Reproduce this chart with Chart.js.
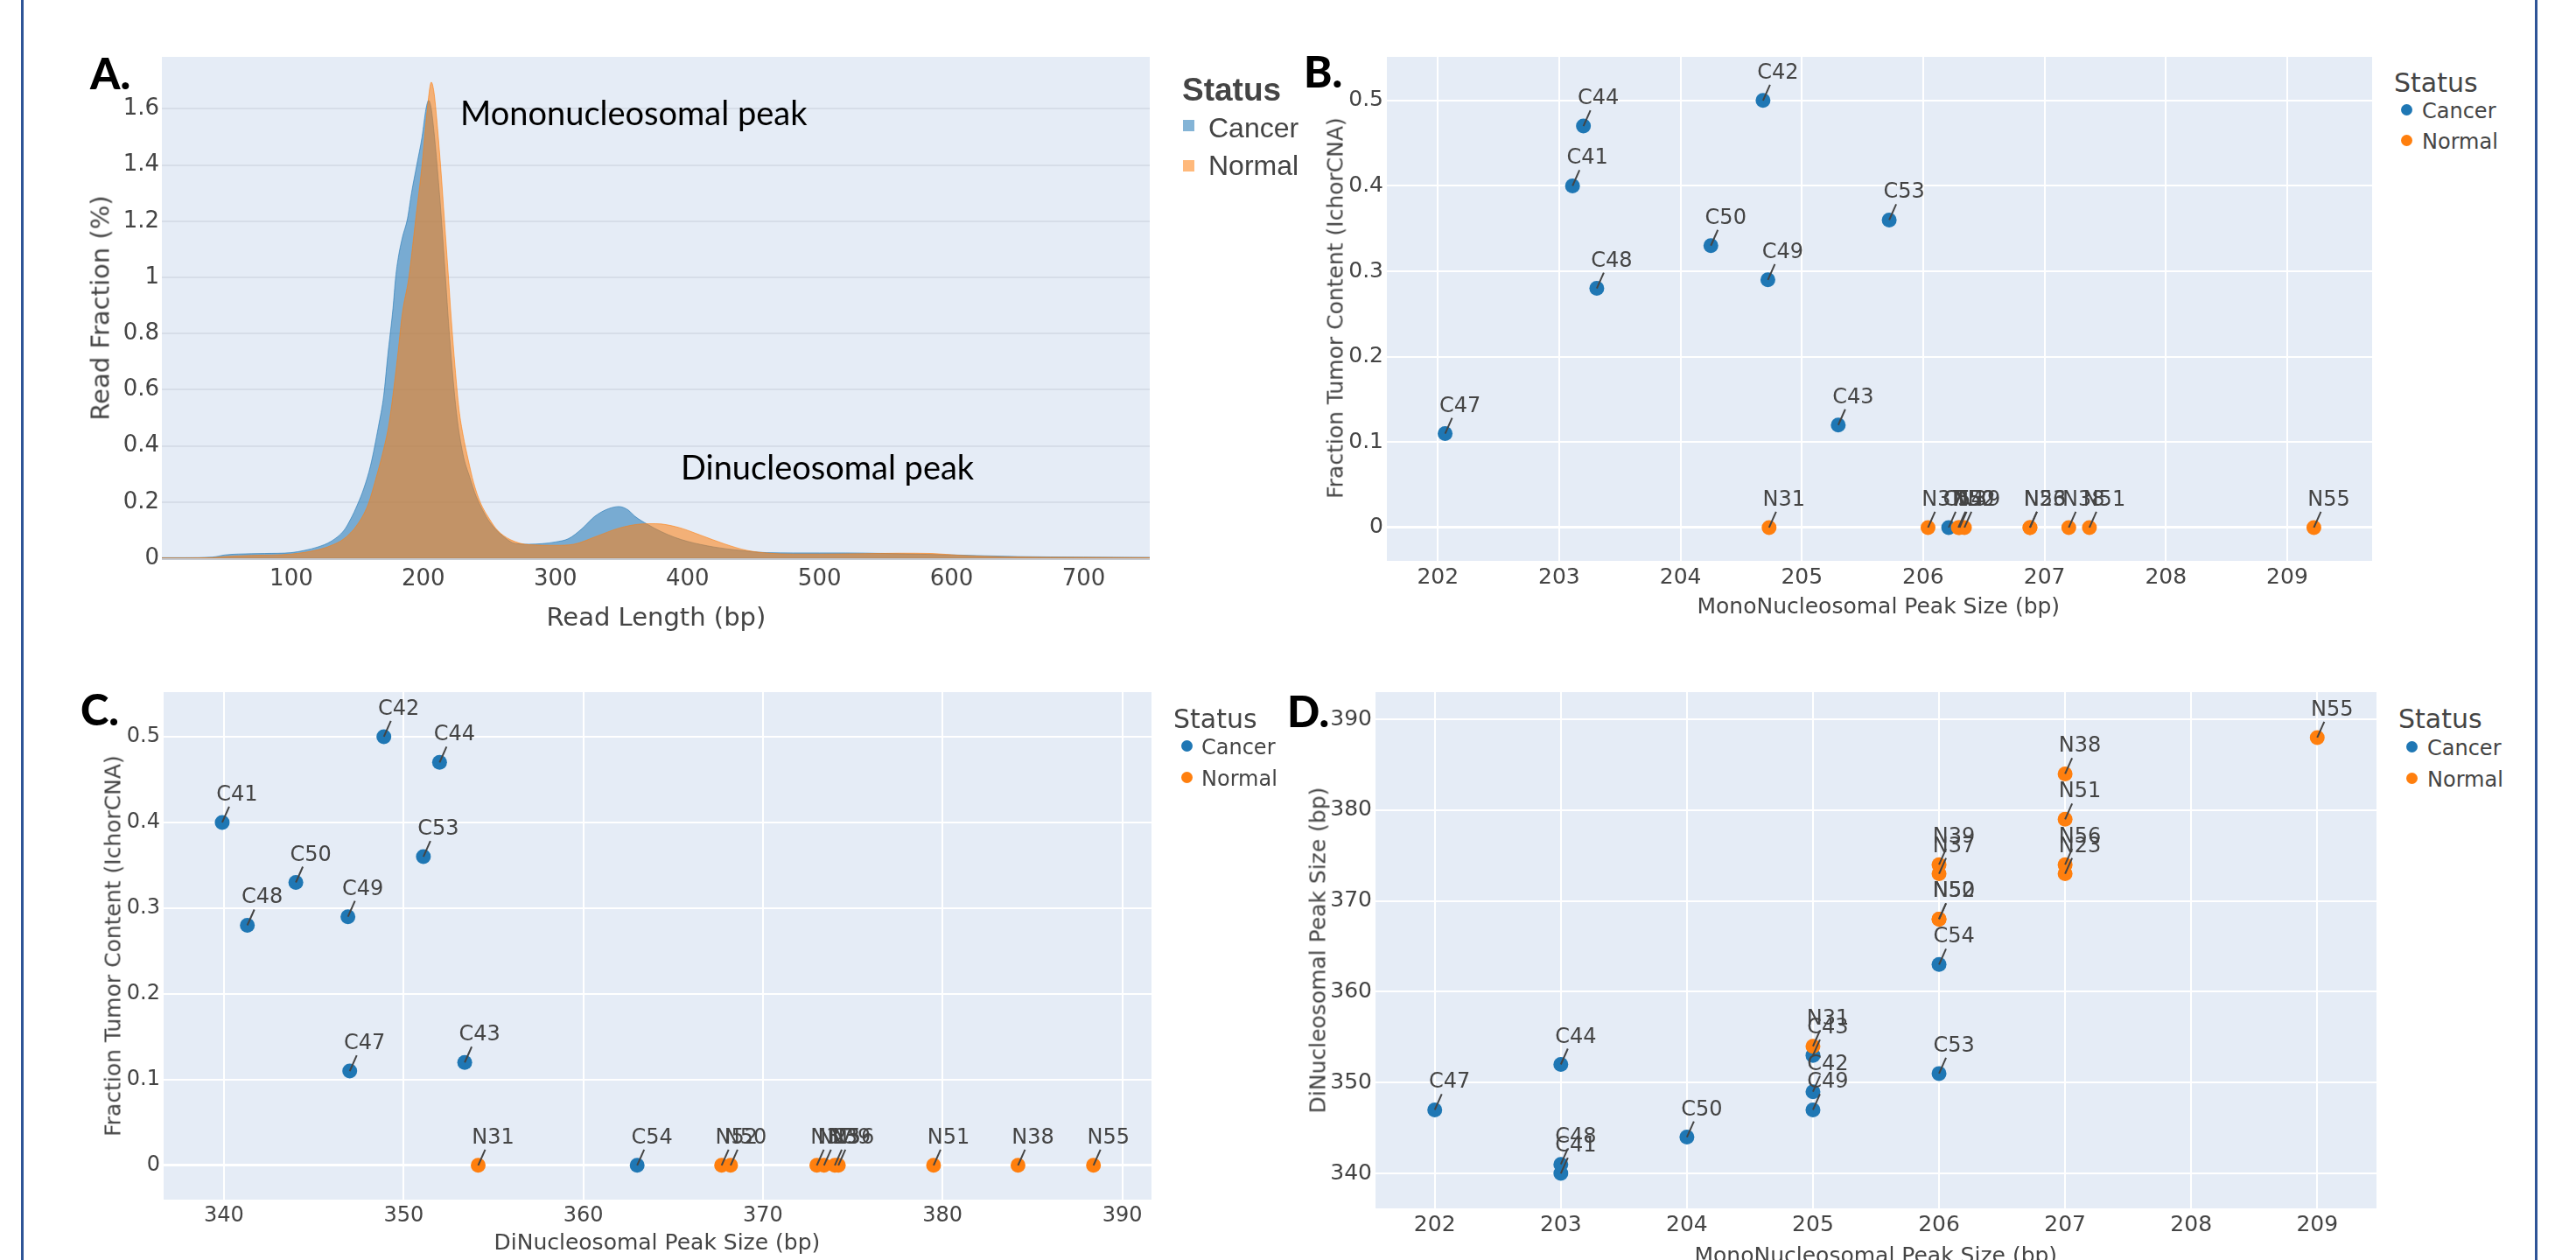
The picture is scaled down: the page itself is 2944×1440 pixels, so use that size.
<!DOCTYPE html>
<html>
<head>
<meta charset="utf-8">
<script src="https://cdn.jsdelivr.net/npm/chart.js@4.4.1/dist/chart.umd.min.js"></script>
<style>
html,body{margin:0;padding:0;background:#fff;width:2944px;height:1440px;overflow:hidden;position:relative;}
#charts canvas{position:absolute;}
.t{position:absolute;white-space:nowrap;color:#444;font-family:'DejaVu Sans',sans-serif;line-height:normal;}
#frame{position:absolute;left:24px;top:-20px;width:2876px;height:1500px;border:3px solid #2F5597;box-sizing:border-box;}
.sq{position:absolute;}
</style>
</head>
<body>
<div id="frame"></div>
<div id="charts"></div>
<script>
// ---------------- DATA ----------------
// Panel A: read length distributions
const cancerLen  = [1,20,40,50,60,80,100,110,120,130,140,145,150,155,160,166,170,173,177,179,181,184,188,191,195,199,202,204,206,208,210,213,216,220,225,230,235,240,245,250,260,270,280,290,300,310,320,330,340,348,355,360,370,380,390,400,420,440,460,480,500,520,550,600,650,700,750];
const cancerFrac = [0.002,0.002,0.004,0.012,0.015,0.017,0.02,0.028,0.04,0.06,0.10,0.14,0.19,0.25,0.33,0.47,0.58,0.72,0.89,1.00,1.07,1.14,1.21,1.30,1.40,1.50,1.60,1.63,1.60,1.52,1.42,1.25,1.05,0.78,0.52,0.37,0.29,0.22,0.17,0.13,0.08,0.052,0.05,0.052,0.058,0.07,0.105,0.15,0.176,0.184,0.172,0.15,0.12,0.095,0.075,0.06,0.04,0.028,0.02,0.019,0.019,0.019,0.017,0.012,0.006,0.004,0.003];
const normalLen  = [1,20,40,50,70,100,120,130,140,150,158,165,170,174,178,181,184,189,194,199,203,206,208,210,213,216,219,221,224,227,230,234,238,243,250,256,266,280,300,314,331,348,365,376,393,410,428,445,462,480,500,530,560,585,607,641,700,750];
const normalFrac = [0.001,0.001,0.002,0.006,0.01,0.015,0.03,0.045,0.07,0.12,0.19,0.30,0.39,0.48,0.62,0.74,0.87,1.00,1.20,1.40,1.60,1.695,1.66,1.57,1.40,1.20,1.00,0.86,0.68,0.53,0.44,0.35,0.27,0.20,0.14,0.10,0.066,0.048,0.046,0.05,0.078,0.107,0.122,0.123,0.11,0.082,0.051,0.028,0.018,0.015,0.015,0.016,0.018,0.017,0.01,0.005,0.003,0.002];
const histXTicks = [100,200,300,400,500,600,700];
const histXTickLabels = ['100','200','300','400','500','600','700'];
const histYTicks = [0,0.2,0.4,0.6,0.8,1,1.2,1.4,1.6];
const histYTickLabels = ['0','0.2','0.4','0.6','0.8','1','1.2','1.4','1.6'];

// Samples
const cancerIds   = ['C41','C42','C43','C44','C47','C48','C49','C50','C53','C54'];
const cancerMono  = [203.11,204.68,205.30,203.20,202.06,203.31,204.72,204.25,205.72,206.21];
const cancerTumor = [0.40,0.50,0.12,0.47,0.11,0.28,0.29,0.33,0.36,0];
const cancerDi    = [339.9,348.9,353.4,352.0,347.0,341.3,346.9,344.0,351.1,363.0];
const cancerMonoD = [203,205,205,203,202,203,205,204,206,206];
const cancerDiD   = [340,349,353,352,347,341,347,344,351,363];

const normalIds   = ['N23','N31','N37','N38','N39','N50','N51','N52','N55','N56'];
const normalMono  = [206.88,204.73,206.04,207.20,206.34,206.29,207.37,206.30,209.22,206.88];
const normalTumor = [0,0,0,0,0,0,0,0,0,0];
const normalDi    = [373.4,354.15,373.0,384.2,374.0,368.2,379.5,367.7,388.4,374.2];
const normalMonoD = [207,205,206,207,206,206,207,206,209,207];
const normalDiD   = [373,354,373,384,374,368,379,368,388,374];

const monoTicks = [202,203,204,205,206,207,208,209];
const monoTickLabels = ['202','203','204','205','206','207','208','209'];
const diTicks = [340,350,360,370,380,390];
const diTickLabels = ['340','350','360','370','380','390'];
const fracTicks = [0,0.1,0.2,0.3,0.4,0.5];
const fracTickLabels = ['0','0.1','0.2','0.3','0.4','0.5'];

// ---------------- HELPERS ----------------
const PADL=170, PADT=30, PADR=20, PADB=90;
const FAM = "'DejaVu Sans'";
function mkCanvas(r){
  const c=document.createElement('canvas');
  const w=r.r-r.l+PADL+PADR, h=r.b-r.t+PADT+PADB;
  c.width=w; c.height=h;
  c.style.left=(r.l-PADL)+'px'; c.style.top=(r.t-PADT)+'px';
  c.style.width=w+'px'; c.style.height=h+'px';
  document.getElementById('charts').appendChild(c);
  return c;
}
function axis(min,max,ticks,labels,size,pad,grid,isX){
  return {
    type:'linear', min:min, max:max,
    afterBuildTicks:(s)=>{ s.ticks = ticks.map(v=>({value:v})); },
    afterFit:(s)=>{ if(isX) s.height=PADB; else s.width=PADL; },
    ticks:{ autoSkip:false, maxRotation:0, minRotation:0, padding:pad, color:'#444',
            font:{family:FAM,size:size},
            callback:(v)=>{ const i=ticks.indexOf(v); return i>=0?labels[i]:''; } },
    grid: grid,
    border:{display:false}
  };
}
const bgPlugin = { id:'bg', beforeDraw(chart){ const a=chart.chartArea, ctx=chart.ctx; ctx.save(); ctx.fillStyle='#E5ECF6'; ctx.fillRect(a.left,a.top,a.right-a.left,a.bottom-a.top); ctx.restore(); } };
const labelPlugin = { id:'ptlabels', afterDatasetsDraw(chart){
  const ctx=chart.ctx; ctx.save();
  ctx.font="24px 'DejaVu Sans'"; ctx.fillStyle='#444'; ctx.strokeStyle='#444'; ctx.lineWidth=2;
  ctx.textAlign='center'; ctx.textBaseline='alphabetic';
  chart.data.datasets.forEach((ds,i)=>{
    const meta=chart.getDatasetMeta(i);
    meta.data.forEach((el,j)=>{
      const x=el.x, y=el.y;
      ctx.beginPath(); ctx.moveTo(x,y); ctx.lineTo(x+8,y-18); ctx.stroke();
      ctx.fillText(ds.ptLabels[j], x+17, y-25);
    });
  });
  ctx.restore();
}};
const whiteGrid = { color:'#ffffff', lineWidth:(c)=> (c.tick && c.tick.value===0) ? 3 : 2, drawTicks:false };

function scatter(rect, xr, yr, xt, xl, yt, yl, cx, cy, nx, ny, tsize){
  const c=mkCanvas(rect);
  return new Chart(c,{
    type:'scatter',
    data:{ datasets:[
      { label:'Cancer', data:cx.map((v,i)=>({x:v,y:cy[i]})), backgroundColor:'#1f77b4', borderColor:'#1f77b4',
        pointRadius:8.5, pointBorderWidth:0, order:1, ptLabels:cancerIds },
      { label:'Normal', data:nx.map((v,i)=>({x:v,y:ny[i]})), backgroundColor:'#ff7f0e', borderColor:'#ff7f0e',
        pointRadius:8.5, pointBorderWidth:0, order:0, ptLabels:normalIds }
    ]},
    options:{
      responsive:false, animation:false, devicePixelRatio:1,
      layout:{padding:{left:0,top:PADT,right:PADR,bottom:0}},
      plugins:{legend:{display:false}, tooltip:{enabled:false}},
      scales:{
        x: axis(xr[0],xr[1],xt,xl,tsize,4,whiteGrid,true),
        y: axis(yr[0],yr[1],yt,yl,tsize,4,whiteGrid,false)
      }
    },
    plugins:[bgPlugin,labelPlugin]
  });
}

// ---------------- PANEL A ----------------
(function(){
  const rect={l:185,t:65,r:1314,b:638};
  const c=mkCanvas(rect);
  new Chart(c,{
    type:'line',
    data:{ datasets:[
      { label:'Cancer', data:cancerLen.map((v,i)=>({x:v,y:cancerFrac[i]})), fill:'origin',
        backgroundColor:'rgba(31,119,180,0.55)', borderColor:'rgba(31,119,180,0.6)', borderWidth:1,
        pointRadius:0, cubicInterpolationMode:'monotone', order:1 },
      { label:'Normal', data:normalLen.map((v,i)=>({x:v,y:normalFrac[i]})), fill:'origin',
        backgroundColor:'rgba(255,127,14,0.55)', borderColor:'rgba(255,127,14,0.6)', borderWidth:1,
        pointRadius:0, cubicInterpolationMode:'monotone', order:0 }
    ]},
    options:{
      responsive:false, animation:false, devicePixelRatio:1,
      layout:{padding:{left:0,top:PADT,right:PADR,bottom:0}},
      plugins:{legend:{display:false}, tooltip:{enabled:false}},
      scales:{
        x: axis(2,750,histXTicks,histXTickLabels,26,9,{display:false,drawTicks:false},true),
        y: axis(0,1.785,histYTicks,histYTickLabels,26,3,{
             color:(c)=> (c.tick && c.tick.value===0) ? '#c6cad1' : '#d6dde8',
             lineWidth:(c)=> (c.tick && c.tick.value===0) ? 3 : 2, drawTicks:false },false)
      }
    },
    plugins:[bgPlugin]
  });
})();

// ---------------- PANELS B, C, D ----------------
scatter({l:1585,t:65,r:2711,b:641},[201.58,209.70],[-0.039,0.551],monoTicks,monoTickLabels,fracTicks,fracTickLabels,
        cancerMono,cancerTumor,normalMono,normalTumor,25);
scatter({l:187,t:791,r:1316,b:1371},[336.64,391.63],[-0.040,0.552],diTicks,diTickLabels,fracTicks,fracTickLabels,
        cancerDi,cancerTumor,normalDi,normalTumor,24);
scatter({l:1572,t:791,r:2716,b:1381},[201.53,209.47],[336.15,393],monoTicks,monoTickLabels,diTicks,diTickLabels,
        cancerMonoD,cancerDiD,normalMonoD,normalDiD,25);

// ---------------- TEXT ----------------
function place(text,x,baseline,style,align){
  const d=document.createElement('div'); d.className='t'; Object.assign(d.style,style);
  d.appendChild(document.createTextNode(text));
  const m=document.createElement('span'); m.style.display='inline-block'; m.style.width='0'; m.style.height='0'; m.style.verticalAlign='baseline';
  d.appendChild(m); document.body.appendChild(d);
  const b=m.offsetTop;
  d.style.top=(baseline-b)+'px';
  const w=d.offsetWidth;
  d.style.left=(align==='center'? x-w/2 : x)+'px';
  return d;
}
function vtitle(text,cx,cy,size){
  const d=document.createElement('div'); d.className='t'; d.textContent=text;
  d.style.fontSize=size+'px'; d.style.lineHeight='1';
  d.style.left=cx+'px'; d.style.top=cy+'px';
  d.style.transform='translate(-50%,-50%) rotate(-90deg)';
  document.body.appendChild(d);
}
// axis titles
place('Read Length (bp)',750,715,{fontSize:'29px'},'center');
vtitle('Read Fraction (%)',115,352,29);
place('MonoNucleosomal Peak Size (bp)',2147,701,{fontSize:'25px'},'center');
vtitle('Fraction Tumor Content (IchorCNA)',1526,352,25);
place('DiNucleosomal Peak Size (bp)',751,1428,{fontSize:'25px'},'center');
vtitle('Fraction Tumor Content (IchorCNA)',129,1081,25);
place('MonoNucleosomal Peak Size (bp)',2144,1443,{fontSize:'25px'},'center');
vtitle('DiNucleosomal Peak Size (bp)',1506,1086,25);

// annotations panel A
const annStyle={fontFamily:"Lato,'Noto Sans',sans-serif",fontSize:'38px',color:'#000'};
place('Mononucleosomal peak',526,143,annStyle);
place('Dinucleosomal peak',778,548,annStyle);

// panel letters
const letStyle={fontFamily:"Lato,'Noto Sans',sans-serif",fontSize:'49px',fontWeight:'900',color:'#000'};
place('A.',103,102,letStyle);
place('B.',1490,100,letStyle);
place('C.',92,829,letStyle);
place('D.',1471,831,letStyle);

// legends
function sq(x,y,w,h,color,round){
  const s=document.createElement('div'); s.className='sq';
  s.style.left=x+'px'; s.style.top=y+'px'; s.style.width=w+'px'; s.style.height=h+'px'; s.style.background=color;
  if(round) s.style.borderRadius='50%';
  document.body.appendChild(s);
}
// Panel A legend
const la={fontFamily:"'Liberation Sans',Arial,sans-serif",color:'#444'};
place('Status',1351,115,Object.assign({fontSize:'37px',fontWeight:'bold'},la));
place('Cancer',1381,157,Object.assign({fontSize:'32px'},la));
place('Normal',1381,200,Object.assign({fontSize:'32px'},la));
sq(1352,137,13,13,'rgba(31,119,180,0.55)');
sq(1352,183,13,13,'rgba(255,127,14,0.55)');
// Panels B, C, D legends
function legend(sx,sBase,dotX,dotY1,dotY2,textX){
  place('Status',sx,sBase,{fontSize:'30px'});
  sq(dotX-6.5,dotY1-6.5,13,13,'#1f77b4',true);
  sq(dotX-6.5,dotY2-6.5,13,13,'#ff7f0e',true);
  place('Cancer',textX,dotY1+9.5,{fontSize:'24px'});
  place('Normal',textX,dotY2+9.5,{fontSize:'24px'});
}
legend(2736,105,2750,125.7,160.5,2768);
legend(1341,831.5,1356,852.4,888,1373);
legend(2741,831.5,2756,853,889,2774);
</script>
</body>
</html>
